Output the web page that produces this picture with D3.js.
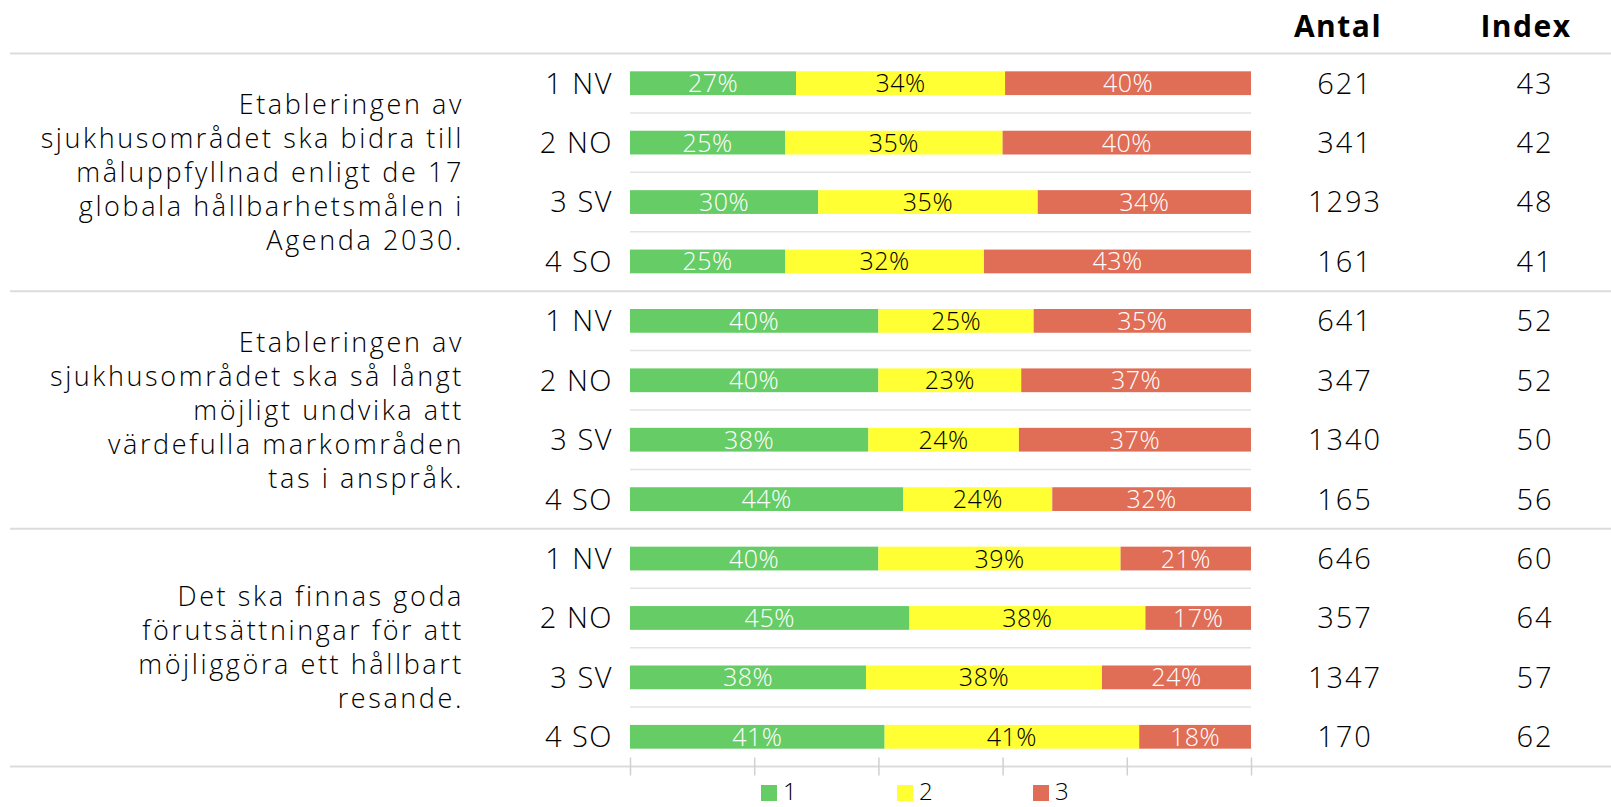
<!DOCTYPE html>
<html>
<head>
  <meta charset="utf-8"/>
  <title>Hållbarhet</title>
  <script src="https://d3js.org/d3.v7.min.js"></script>
<style>
body { margin: 0; background: #fff; }
svg text { font-family: "Open Sans", sans-serif; font-weight: 300; fill: #000; }
.pct { font-size: 25px; letter-spacing: 0.5px; }
.cat { font-size: 29px; letter-spacing: 1.5px; }
.num { font-size: 29px; letter-spacing: 2px; }
.head { font-size: 30px; font-weight: bold !important; letter-spacing: 1.5px; }
.question { font-size: 27px; letter-spacing: 2.6px; }
</style>
</head>
<body>
<svg id="chart"></svg>
<script>
// questions (one per group of four areas)
var questions = [
  ["Etableringen av", "sjukhusområdet ska bidra till", "måluppfyllnad enligt de 17", "globala hållbarhetsmålen i", "Agenda 2030."],
  ["Etableringen av", "sjukhusområdet ska så långt", "möjligt undvika att", "värdefulla markområden", "tas i anspråk."],
  ["Det ska finnas goda", "förutsättningar för att", "möjliggöra ett hållbart", "resande."]
];
var areas = ["1 NV", "2 NO", "3 SV", "4 SO"];
var series = ["1", "2", "3"];

// share answering 1 / 2 / 3, per question, per area (percent)
var share1 = [[27, 25, 30, 25], [40, 40, 38, 44], [40, 45, 38, 41]];
var share2 = [[34, 35, 35, 32], [25, 23, 24, 24], [39, 38, 38, 41]];
var share3 = [[40, 40, 34, 43], [35, 37, 37, 32], [21, 17, 24, 18]];
var antal = [[621, 341, 1293, 161], [641, 347, 1340, 165], [646, 357, 1347, 170]];
var index = [[43, 42, 48, 41], [52, 52, 50, 56], [60, 64, 57, 62]];
var xTicks = [0, 20, 40, 60, 80, 100];

var colors = ["#66cc66", "#ffff33", "#e06d56"];
var labelColors = ["#fff", "#000", "#fff"];

var width = 1611, height = 807;
var svg = d3.select("#chart").attr("width", width).attr("height", height);

var rows = [];
questions.forEach(function(q, g) {
  areas.forEach(function(a, i) {
    var vals = [share1[g][i], share2[g][i], share3[g][i]];
    var total = d3.sum(vals);
    var x0 = 0;
    var segs = vals.map(function(v, s) {
      var seg = { s: s, v: v, x0: x0 / total * 100, x1: (x0 + v) / total * 100 };
      x0 += v;
      return seg;
    });
    rows.push({ id: g + "-" + i, g: g, area: a, segs: segs, antal: antal[g][i], index: index[g][i] });
  });
});

var x = d3.scaleLinear().domain([0, 100]).range([630, 1251]);
var y = d3.scaleBand().domain(rows.map(function(d) { return d.id; }))
    .range([53.5, 766.5]).paddingInner(0.6).paddingOuter(0.3);
var step = y.step();
var groupH = step * areas.length;

// thin lines between rows inside the plot
rows.forEach(function(d, i) {
  if (i % 4 == 3) return;
  var yy = y(d.id) + y.bandwidth() + (step - y.bandwidth()) / 2;
  svg.append("line").attr("x1", x(0)).attr("x2", x(100)).attr("y1", yy).attr("y2", yy)
    .attr("stroke", "#e3e3e3").attr("stroke-width", 1.5);
});

// group separators
d3.range(questions.length + 1).forEach(function(g) {
  var yy = 53.5 + g * groupH;
  svg.append("line").attr("x1", 10).attr("x2", width).attr("y1", yy).attr("y2", yy)
    .attr("stroke", "#dcdcdc").attr("stroke-width", 2);
});

// bottom axis ticks
var axis = svg.append("g").attr("transform", "translate(0,766.5)")
  .call(d3.axisBottom(x).tickValues(xTicks).tickSize(9).tickFormat(""));
axis.select(".domain").remove();
axis.selectAll(".tick line").attr("stroke", "#d0d0d0").attr("stroke-width", 1.5).attr("y1", -9);

var row = svg.selectAll("g.row").data(rows).enter().append("g")
  .attr("class", "row")
  .attr("transform", function(d) { return "translate(0," + y(d.id) + ")"; });

row.selectAll("rect").data(function(d) { return d.segs; }).enter().append("rect")
  .attr("x", function(d) { return x(d.x0); })
  .attr("width", function(d) { return x(d.x1) - x(d.x0); })
  .attr("height", y.bandwidth())
  .attr("fill", function(d) { return colors[d.s]; });

row.selectAll("text.pct").data(function(d) { return d.segs; }).enter().append("text")
  .attr("class", "pct")
  .attr("x", function(d) { return (x(d.x0) + x(d.x1)) / 2; })
  .attr("y", y.bandwidth() / 2)
  .attr("dy", "0.36em")
  .attr("text-anchor", "middle")
  .style("fill", function(d) { return labelColors[d.s]; })
  .text(function(d) { return d.v + "%"; });

var mid = y.bandwidth() / 2;
row.append("text").attr("class", "cat")
  .attr("x", 613).attr("y", mid).attr("dy", "0.36em").attr("text-anchor", "end")
  .text(function(d) { return d.area; });
row.append("text").attr("class", "num")
  .attr("x", 1345).attr("y", mid).attr("dy", "0.36em").attr("text-anchor", "middle")
  .text(function(d) { return d.antal; });
row.append("text").attr("class", "num")
  .attr("x", 1535).attr("y", mid).attr("dy", "0.36em").attr("text-anchor", "middle")
  .text(function(d) { return d.index; });

// column headers
svg.append("text").attr("class", "head").attr("x", 1338).attr("y", 37).attr("text-anchor", "middle").text("Antal");
svg.append("text").attr("class", "head").attr("x", 1526).attr("y", 37).attr("text-anchor", "middle").text("Index");

// question texts
var lineH = 34;
questions.forEach(function(lines, g) {
  var cy = 53.5 + g * groupH + groupH / 2;
  var t = svg.append("text").attr("class", "question").attr("text-anchor", "end");
  lines.forEach(function(l, i) {
    t.append("tspan").attr("x", 464)
      .attr("y", cy + (i - (lines.length - 1) / 2) * lineH)
      .attr("dy", "0.36em")
      .text(l);
  });
});

// legend
var legend = svg.selectAll("g.legend").data(series).enter().append("g")
  .attr("class", "legend")
  .attr("transform", function(d, i) { return "translate(" + (761 + i * 136) + ",785)"; });
legend.append("rect").attr("width", 16).attr("height", 16)
  .attr("fill", function(d, i) { return colors[i]; });
legend.append("text").attr("x", 22).attr("y", 7).attr("dy", "0.34em")
  .style("font-size", "24px")
  .text(function(d) { return d; });
</script>
</body>
</html>
